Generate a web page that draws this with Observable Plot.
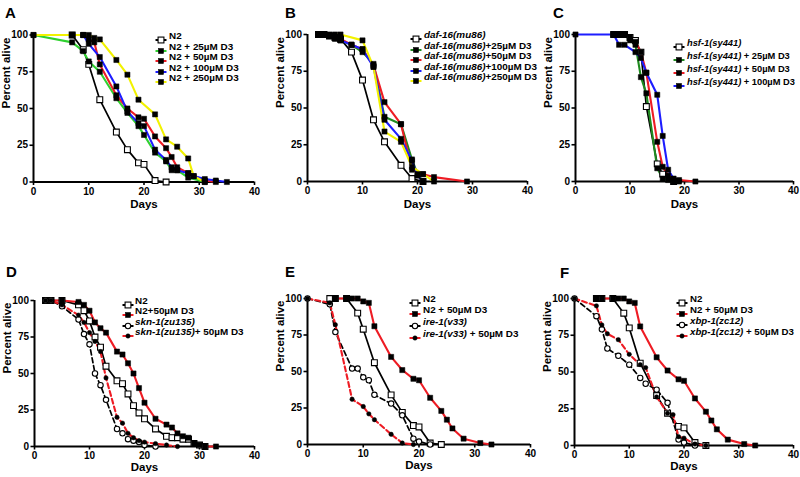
<!DOCTYPE html>
<html><head><meta charset="utf-8">
<script src="https://cdn.jsdelivr.net/npm/d3@7"></script>
<script src="https://cdn.jsdelivr.net/npm/@observablehq/plot@0.6"></script>
<style>
html,body{margin:0;padding:0;background:#fff;}
#root{position:relative;width:800px;height:477px;overflow:hidden;font-family:"Liberation Sans",Arial,sans-serif;font-weight:bold;color:#000;}
.letter{position:absolute;font-size:15px;line-height:15px;}
.legtxt{position:absolute;line-height:12px;white-space:nowrap;}
.legsym{position:absolute;}
</style></head><body><div id="root"></div><script>
// ---------- tick labels ----------
const xTicks = [0, 10, 20, 30, 40];
const yTicks = [0, 25, 50, 75, 100];
const xLabel = "Days";
const yLabel = "Percent alive";
const panelLetters = ["A", "B", "C", "D", "E", "F"];

// ---------- Panel A ----------
const A_labels = [["", "N2"], ["", "N2 + 25µM D3"], ["", "N2 + 50µM D3"], ["", "N2 + 100µM D3"], ["", "N2 + 250µM D3"]];
const A_N2_days = [7, 9, 10, 12, 15, 17, 19, 20, 22, 24];
const A_N2_pct  = [100, 90, 80, 56, 34, 22, 13, 12, 1, 0];
const A_25_days = [0, 7, 9, 10, 12, 15, 17, 19, 20, 22, 24, 25, 26, 28, 31];
const A_25_pct  = [100, 95, 89, 82, 75, 57, 47, 38, 32, 20, 14, 8, 8, 3, 0];
const A_50_days = [7, 9, 10, 11, 12, 15, 17, 19, 20, 22, 24, 25, 26, 28, 31, 33];
const A_50_pct  = [100, 100, 97, 95, 80, 59, 50, 44, 43, 31, 23, 17, 10, 6, 1, 0];
const A_100_days = [7, 9, 10, 12, 15, 17, 19, 20, 22, 24, 25, 26, 28, 29, 31, 33, 35];
const A_100_pct  = [100, 100, 94, 85, 65, 48, 40, 38, 22, 15, 10, 8, 6, 4, 2, 1, 0];
const A_250_days = [0, 7, 9, 10, 11, 12, 15, 17, 19, 22, 24, 26, 28, 29, 31];
const A_250_pct  = [100, 100, 100, 100, 98, 97, 83, 73, 56, 46, 29, 24, 16, 4, 0];

// ---------- Panel B ----------
const B_labels = [["daf-16(mu86)", ""], ["daf-16(mu86)", "+25µM D3"], ["daf-16(mu86)", "+50µM D3"], ["daf-16(mu86)", "+100µM D3"], ["daf-16(mu86)", "+250µM D3"]];
const B_daf_days = [2, 3, 4, 5, 6, 8, 10, 12, 14, 17, 19, 21];
const B_daf_pct  = [100, 100, 99, 98, 97, 88, 69, 42, 27, 11, 2, 0];
const B_25_days = [2, 3, 4, 5, 6, 8, 10, 12, 14, 17, 19, 20, 21];
const B_25_pct  = [100, 100, 99, 97, 96, 93, 88, 80, 44, 39, 15, 5, 0];
const B_50_days = [2, 3, 4, 5, 6, 8, 10, 12, 14, 17, 19, 21, 23, 29];
const B_50_pct  = [100, 100, 99, 98, 97, 93, 90, 79, 54, 39, 8, 5, 3, 0];
const B_100_days = [2, 3, 4, 5, 6, 8, 10, 12, 14, 17, 19, 20, 21];
const B_100_pct  = [100, 100, 99, 98, 96, 93, 90, 78, 42, 29, 14, 4, 0];
const B_250_days = [2, 3, 4, 5, 6, 10, 12, 14, 17, 19, 21, 23];
const B_250_pct  = [100, 100, 100, 100, 100, 96, 78, 34, 27, 10, 5, 0];

// ---------- Panel C ----------
const C_labels = [["hsf-1(sy441)", ""], ["hsf-1(sy441)", " + 25µM D3"], ["hsf-1(sy441)", " + 50µM D3"], ["hsf-1(sy441)", " + 100µM D3"]];
const C_hsf_days = [7, 8, 9, 10, 11, 12, 13, 15, 16, 18];
const C_hsf_pct  = [100, 100, 100, 98, 96, 88, 51, 12, 5, 0];
const C_25_days = [7, 8, 9, 10, 11, 12, 13, 15, 16, 17, 18];
const C_25_pct  = [100, 100, 100, 96, 93, 71, 60, 9, 2, 1, 0];
const C_50_days = [7, 8, 9, 10, 11, 12, 13, 15, 16, 17, 19, 22];
const C_50_pct  = [100, 100, 100, 98, 95, 88, 74, 27, 10, 4, 1, 0];
const C_100_days = [0, 7, 8, 9, 11, 12, 13, 15, 16, 17, 18, 19];
const C_100_pct  = [100, 100, 93, 93, 88, 84, 74, 59, 31, 8, 2, 0];

// ---------- Panel D ----------
const D_labels = [["", "N2"], ["", "N2+50µM D3"], ["skn-1(zu135)", ""], ["skn-1(zu135)", "+ 50µM D3"]];
const D_N2_days = [2, 3, 5, 8, 9, 10, 11, 12, 13, 15, 16, 17, 18, 19, 20, 22, 24, 25, 26, 27, 28, 29, 30, 31];
const D_N2_pct  = [100, 100, 100, 97, 93, 86, 75, 68, 55, 45, 43, 36, 28, 23, 19, 12, 7, 6, 6, 5, 5, 2, 1, 0];
const D_N250_days = [2, 3, 5, 8, 9, 10, 11, 12, 13, 15, 16, 17, 18, 19, 20, 22, 24, 25, 26, 27, 28, 29, 30, 31, 33];
const D_N250_pct  = [100, 100, 100, 99, 97, 93, 85, 81, 78, 65, 63, 57, 50, 40, 30, 19, 15, 13, 9, 7, 6, 2, 1, 0, 0];
const D_skn_days = [2, 3, 5, 8, 9, 10, 11, 12, 13, 15, 16, 17, 18, 19, 20, 22];
const D_skn_pct  = [100, 100, 96, 87, 77, 70, 50, 42, 32, 12, 9, 5, 4, 3, 1, 0];
const D_skn50_days = [2, 3, 5, 8, 9, 10, 11, 12, 13, 15, 16, 17, 18, 19, 20, 22, 24, 26];
const D_skn50_pct  = [100, 100, 97, 90, 85, 78, 72, 65, 47, 20, 16, 9, 6, 4, 3, 2, 1, 0];

// ---------- Panel E ----------
const E_labels = [["", "N2"], ["", "N2 + 50µM D3"], ["ire-1(v33)", ""], ["ire-1(v33)", " + 50µM D3"]];
const E_N2_days = [4, 5, 7, 9, 10, 12, 15, 17, 19, 20, 22, 24];
const E_N2_pct  = [100, 100, 100, 90, 79, 56, 34, 22, 13, 12, 1, 0];
const E_N250_days = [5, 7, 8, 9, 10, 11, 12, 15, 17, 19, 20, 22, 24, 25, 26, 28, 31, 33];
const E_N250_pct  = [100, 100, 100, 100, 98, 97, 81, 60, 51, 45, 44, 32, 23, 17, 11, 4, 1, 0];
const E_ire_days = [0, 4, 5, 8, 9, 10, 11, 12, 15, 17, 19, 20, 22];
const E_ire_pct  = [100, 96, 77, 52, 52, 46, 44, 34, 28, 20, 4, 2, 0];
const E_ire50_days = [0, 4, 5, 8, 10, 11, 12, 15, 17, 19];
const E_ire50_pct  = [100, 97, 82, 31, 26, 21, 17, 7, 1, 0];

// ---------- Panel F ----------
const F_labels = [["", "N2"], ["", "N2 + 50µM D3"], ["xbp-1(zc12)", ""], ["xbp-1(zc12)", " + 50µM D3"]];
const F_N2_days = [4, 5, 7, 9, 10, 12, 15, 17, 19, 20, 22, 24];
const F_N2_pct  = [100, 100, 100, 90, 80, 56, 34, 22, 13, 12, 2, 0];
const F_N250_days = [4, 5, 7, 8, 9, 10, 11, 12, 15, 17, 19, 20, 22, 24, 25, 26, 28, 31, 33];
const F_N250_pct  = [100, 100, 100, 100, 100, 98, 97, 81, 60, 51, 45, 44, 32, 23, 17, 11, 4, 1, 0];
const F_xbp_days = [0, 4, 5, 6, 8, 10, 12, 13, 15, 17, 19, 20, 22];
const F_xbp_pct  = [100, 88, 79, 66, 61, 55, 46, 42, 38, 29, 4, 2, 0];
const F_xbp50_days = [0, 4, 5, 6, 8, 10, 12, 13, 15, 17, 18, 19, 20, 22, 24];
const F_xbp50_pct  = [100, 95, 82, 76, 72, 62, 55, 53, 33, 22, 21, 6, 5, 1, 0];

// ---------- styles ----------
const GREEN_A = "#2fd12f", GREEN_B = "#1f8a1f", RED = "#ee1c24", BLUE = "#1d1dff", YELLOW = "#f2f200";
const MARK = {
  openSquare: {symbol: "square", r: 3.3, fill: "white", sw: 1.1},
  square:     {symbol: "square", r: 2.9, fill: "black", sw: 0.5},
  openCircle: {symbol: "circle", r: 2.7, fill: "white", sw: 1.1},
  dot:        {symbol: "circle", r: 2.2, fill: "black", sw: 0.5}
};

function S(days, pct, label, color, marker, dash) { return {days, pct, label, color, marker, dash}; }

const panels = [
  {left: 0, top: 0, width: 265, height: 210, mt: 34.5, mb: 28.5, ml: 33, mr: 11, ldy: 26,
   letter: [5, 5], leg: {sx: 161, tx: 169, y0: 36, dy: 10.6, fs: 9.9},
   series: [S(A_N2_days, A_N2_pct, A_labels[0], "black", "openSquare"),
            S(A_25_days, A_25_pct, A_labels[1], GREEN_A, "square"),
            S(A_50_days, A_50_pct, A_labels[2], RED, "square"),
            S(A_100_days, A_100_pct, A_labels[3], BLUE, "square"),
            S(A_250_days, A_250_pct, A_labels[4], YELLOW, "square")]},
  {left: 265, top: 0, width: 275, height: 210, mt: 34, mb: 29, ml: 42, mr: 13, ldy: 26,
   letter: [285, 5], leg: {sx: 416, tx: 424, y0: 35, dy: 10.5, fs: 9.9},
   series: [S(B_daf_days, B_daf_pct, B_labels[0], "black", "openSquare"),
            S(B_25_days, B_25_pct, B_labels[1], GREEN_B, "square"),
            S(B_50_days, B_50_pct, B_labels[2], RED, "square"),
            S(B_100_days, B_100_pct, B_labels[3], BLUE, "square"),
            S(B_250_days, B_250_pct, B_labels[4], YELLOW, "square")]},
  {left: 530, top: 0, width: 270, height: 210, mt: 34, mb: 29, ml: 45, mr: 7, ldy: 26,
   letter: [553, 5], leg: {sx: 679, tx: 687, y0: 42.5, dy: 13.1, fs: 9.3},
   series: [S(C_hsf_days, C_hsf_pct, C_labels[0], "black", "openSquare"),
            S(C_25_days, C_25_pct, C_labels[1], GREEN_B, "square"),
            S(C_50_days, C_50_pct, C_labels[2], RED, "square"),
            S(C_100_days, C_100_pct, C_labels[3], BLUE, "square")]},
  {left: 0, top: 240, width: 265, height: 237, mt: 60, mb: 31, ml: 34, mr: 11, ldy: 24,
   letter: [6, 264], leg: {sx: 128, tx: 135, y0: 300.5, dy: 10.6, fs: 9.9},
   series: [S(D_N2_days, D_N2_pct, D_labels[0], "black", "openSquare"),
            S(D_N250_days, D_N250_pct, D_labels[1], RED, "square"),
            S(D_skn_days, D_skn_pct, D_labels[2], "black", "openCircle", true),
            S(D_skn50_days, D_skn50_pct, D_labels[3], RED, "dot", true)]},
  {left: 265, top: 240, width: 275, height: 237, mt: 58, mb: 33, ml: 42, mr: 10, ldy: 24,
   letter: [285, 264], leg: {sx: 415, tx: 423, y0: 298.5, dy: 11.9, fs: 9.9},
   series: [S(E_N2_days, E_N2_pct, E_labels[0], "black", "openSquare"),
            S(E_N250_days, E_N250_pct, E_labels[1], RED, "square"),
            S(E_ire_days, E_ire_pct, E_labels[2], "black", "openCircle", true),
            S(E_ire50_days, E_ire50_pct, E_labels[3], RED, "dot", true)]},
  {left: 530, top: 240, width: 270, height: 237, mt: 58, mb: 32, ml: 44, mr: 7, ldy: 24,
   letter: [560, 265], leg: {sx: 682, tx: 690, y0: 299, dy: 11, fs: 9.7},
   series: [S(F_N2_days, F_N2_pct, F_labels[0], "black", "openSquare"),
            S(F_N250_days, F_N250_pct, F_labels[1], RED, "square"),
            S(F_xbp_days, F_xbp_pct, F_labels[2], "black", "openCircle", true),
            S(F_xbp50_days, F_xbp50_pct, F_labels[3], RED, "dot", true)]}
];

const root = document.getElementById("root");
const rows = s => s.days.map((d, i) => ({day: d, pct: s.pct[i]}));

function symbolSVG(s) {
  const m = MARK[s.marker];
  let shape;
  if (m.symbol === "square") {
    const a = m.r * Math.sqrt(Math.PI);
    shape = `<rect x="${6 - a / 2}" y="${5 - a / 2}" width="${a}" height="${a}" fill="${m.fill}" stroke="black" stroke-width="${m.sw}"/>`;
  } else {
    shape = `<circle cx="6" cy="5" r="${m.r}" fill="${m.fill}" stroke="black" stroke-width="${m.sw}"/>`;
  }
  return `<svg width="12" height="10"><line x1="0.5" x2="11.5" y1="5" y2="5" stroke="${s.color}" stroke-width="2"/>${shape}</svg>`;
}

panels.forEach((p, k) => {
  const marks = [
    Plot.ruleX([0], {stroke: "black", strokeWidth: 2}),
    Plot.ruleY([0], {stroke: "black", strokeWidth: 2}),
    Plot.axisX({ticks: xTicks, tickSize: 3.5, tickPadding: 2, strokeWidth: 1.6, label: null}),
    Plot.axisY({ticks: yTicks, tickSize: 3.5, tickPadding: 2, strokeWidth: 1.6, label: null})
  ];
  p.series.forEach(s => marks.push(Plot.line(rows(s), {
    x: "day", y: "pct", stroke: s.color,
    strokeWidth: s.color === "black" ? 1.7 : 2.1,
    strokeDasharray: s.dash ? "5,3" : undefined
  })));
  p.series.forEach(s => {
    const m = MARK[s.marker];
    marks.push(Plot.dot(rows(s), {x: "day", y: "pct", symbol: m.symbol, r: m.r, fill: m.fill, stroke: "black", strokeWidth: m.sw}));
  });
  marks.push(Plot.text([yLabel], {text: d => d, frameAnchor: "left", dx: -27, rotate: -90, fontSize: 11.5, fontWeight: "bold"}));
  marks.push(Plot.text([xLabel], {text: d => d, frameAnchor: "bottom", dy: p.ldy, fontSize: 11.5, fontWeight: "bold"}));

  const svg = Plot.plot({
    width: p.width, height: p.height,
    marginTop: p.mt, marginBottom: p.mb, marginLeft: p.ml, marginRight: p.mr,
    x: {domain: [0, 40], label: null},
    y: {domain: [0, 100], label: null},
    style: {fontFamily: '"Liberation Sans", Arial, sans-serif', fontWeight: "bold", fontSize: "10px",
            color: "black", background: "transparent", overflow: "visible"},
    marks
  });
  svg.style.position = "absolute";
  svg.style.left = p.left + "px";
  svg.style.top = p.top + "px";
  root.appendChild(svg);

  const L = document.createElement("div");
  L.className = "letter";
  L.textContent = panelLetters[k];
  L.style.left = p.letter[0] + "px";
  L.style.top = p.letter[1] + "px";
  root.appendChild(L);

  p.series.forEach((s, i) => {
    const y = p.leg.y0 + i * p.leg.dy;
    const sym = document.createElement("div");
    sym.className = "legsym";
    sym.style.left = (p.leg.sx - 6) + "px";
    sym.style.top = (y - 5) + "px";
    sym.innerHTML = symbolSVG(s);
    root.appendChild(sym);
    const t = document.createElement("div");
    t.className = "legtxt";
    t.style.fontSize = p.leg.fs + "px";
    t.style.left = p.leg.tx + "px";
    t.style.top = (y - 6) + "px";
    t.innerHTML = (s.label[0] ? `<i>${s.label[0]}</i>` : "") + s.label[1];
    root.appendChild(t);
  });
});
</script></body></html>
